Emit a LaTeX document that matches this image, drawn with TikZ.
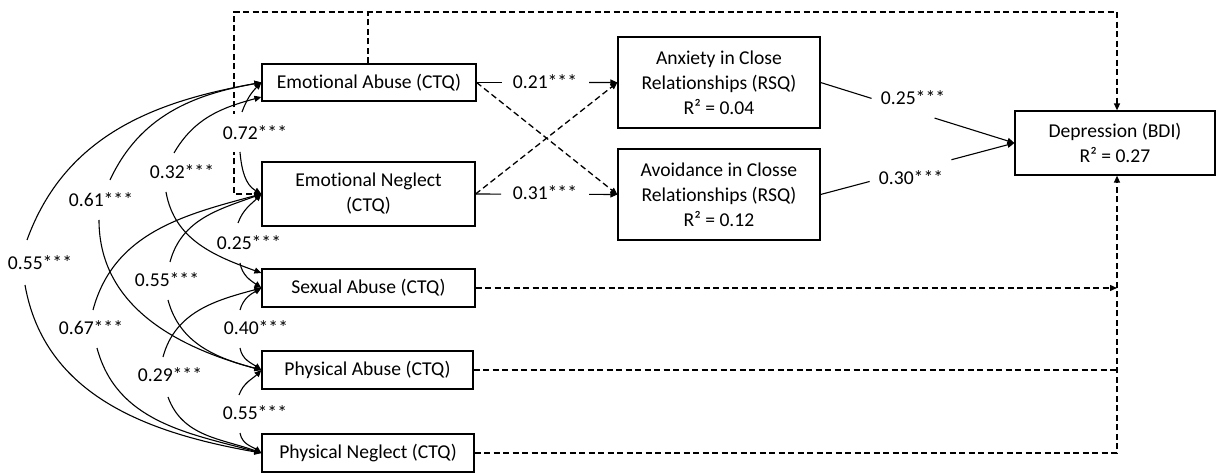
\documentclass[tikz,border=0pt]{standalone}
\usepackage{fontspec}
\setmainfont{Carlito}[Ligatures=NoCommon]
\usetikzlibrary{arrows.meta,calc}
\begin{document}
\begin{tikzpicture}[x=1pt,y=-1pt,
  box/.style={draw,line width=1.2pt,align=center,inner sep=0pt,font=\fontsize{19.6}{25}\selectfont},
  lab/.style={inner sep=1pt,font=\fontsize{19.6}{25}\selectfont},
  tip/.style={-{Triangle[length=7pt,width=6pt]}},
  cov/.style={line width=1.1pt,tip},
  regline/.style={line width=1.1pt},
  dashline/.style={line width=1.3pt,dash pattern=on 6pt off 3.5pt}
]
\useasboundingbox (0,0) rectangle (1216,473);
% boxes
\node[box,minimum width=214pt,minimum height=37pt] (EA) at (369,82.5) {Emotional Abuse (CTQ)};
\node[box,minimum width=213pt,minimum height=64pt] (EN) at (368.5,194) {Emotional Neglect\\(CTQ)};
\node[box,minimum width=213pt,minimum height=38pt] (SA) at (368.5,288) {Sexual Abuse (CTQ)};
\node[box,minimum width=211pt,minimum height=38pt] (PA) at (367.5,370) {Physical Abuse (CTQ)};
\node[box,minimum width=212pt,minimum height=38pt] (PN) at (368,453) {Physical Neglect (CTQ)};
\node[box,minimum width=202pt,minimum height=91pt] (AX) at (719,82.5) {Anxiety in Close\\Relationships (RSQ)\\R² = 0.04};
\node[box,minimum width=202pt,minimum height=91pt] (AV) at (719,194.5) {Avoidance in Closse\\Relationships (RSQ)\\R² = 0.12};
\node[box,minimum width=200pt,minimum height=64pt] (DP) at (1115,143) {Depression (BDI)\\R² = 0.27};
% dashed routes
\coordinate (c1) at (234,194);
\coordinate (c2) at (234,12);
\coordinate (c3) at (368,12);
\coordinate (c4) at (1117,12);
\draw[dashline,tip] (EN.west) -- (c1) -- (c2) -- (c4) -- (c4 |- DP.north);
\draw[dashline] (c3 |- EA.north) -- (c3);
\draw[dashline,tip] (SA.east) -- (SA.east -| c4);
\draw[dashline] (PA.east) -- (PA.east -| c4);
\draw[dashline,tip] (PN.east) -- (PN.east -| c4) -- (c4 |- DP.south);
\draw[dashline,tip] (EA.east) -- (AV.west);
\draw[dashline,tip] (EN.east) -- (AX.west);
% regression paths
\node[lab] (l21) at (545,82) {0.21***};
\draw[regline] (EA.east) -- ($(EA.east)!0.18!(AX.west)$);
\draw[regline,tip] ($(EA.east)!0.80!(AX.west)$) -- (AX.west);
\node[lab] (l31) at (545,193) {0.31***};
\draw[regline] (EN.east) -- ($(EN.east)!0.18!(AV.west)$);
\draw[regline,tip] ($(EN.east)!0.80!(AV.west)$) -- (AV.west);
\node[lab] (l25r) at (913,98) {0.25***};
\draw[regline] (AX.east) -- ($(AX.east)!0.263!(DP.west)$);
\draw[regline,tip] ($(AX.east)!0.588!(DP.west)$) -- (DP.west);
\node[lab] (l30) at (911,178) {0.30***};
\draw[regline] (AV.east) -- ($(AV.east)!0.253!(DP.west)$);
\draw[regline,tip] ($(AV.east)!0.675!(DP.west)$) -- (DP.west);
% covariance labels
\node[lab,fill=white,inner ysep=12pt] (l72) at (255,133) {0.72***};
\node[lab] (l32) at (182,172) {0.32***};
\node[lab] (l61) at (101,200) {0.61***};
\node[lab] (l55a) at (40,263) {0.55***};
\node[lab] (l25) at (249,243) {0.25***};
\node[lab] (l55b) at (167,280) {0.55***};
\node[lab] (l67) at (91,328) {0.67***};
\node[lab] (l40) at (256,328) {0.40***};
\node[lab] (l29) at (170,375) {0.29***};
\node[lab] (l55c) at (255,413) {0.55***};
% box anchor points
\coordinate (EA2) at ($(EA.west)+(0,14.5)$);
\coordinate (SA1) at ($(SA.west)+(0,-15)$);
% covariance arcs
\draw[cov] ($(l72)+(-13,-21)$) to[out=70,in=225] (EA.west);
\draw[cov] ($(l72)+(-15,19)$) to[out=-85,in=150] (EN.west);
\draw[cov] ($(l32)+(-8,-19)$) to[out=60,in=195] (EA2);
\draw[cov] ($(l32)+(-16,20)$) to[out=-80,in=160] (SA1);
\draw[cov] ($(l61)+(9,-20)$) to[out=65,in=190] (EA.west);
\draw[cov] ($(l61)+(-2,20)$) to[out=-90,in=165] (PA.west);
\draw[cov] ($(l55a)+(-13,-23)$) to[out=70,in=190] (EA.west);
\draw[cov] ($(l55a)+(-15,22)$) to[out=-80,in=170] (PN.west);
\draw[cov] ($(l25)+(-11,-20)$) to[out=70,in=225] (EN.west);
\draw[cov] ($(l25)+(-9,20)$) to[out=-80,in=145] (SA.west);
\draw[cov] ($(l55b)+(3,-18)$) to[out=75,in=200] (EN.west);
\draw[cov] ($(l55b)+(1,20)$) to[out=-75,in=165] (PA.west);
\draw[cov] ($(l67)+(2,-18)$) to[out=75,in=195] (EN.west);
\draw[cov] ($(l67)+(6,20)$) to[out=-75,in=165] (PN.west);
\draw[cov] ($(l40)+(-16,-18)$) to[out=75,in=210] (SA.west);
\draw[cov] ($(l40)+(-16,20)$) to[out=-80,in=145] (PA.west);
\draw[cov] ($(l29)+(-7,-18)$) to[out=75,in=195] (SA.west);
\draw[cov] ($(l29)+(-2,22)$) to[out=-70,in=160] (PN.west);
\draw[cov] ($(l55c)+(-16,-18)$) to[out=70,in=225] (PA.west);
\draw[cov] ($(l55c)+(-15,20)$) to[out=-80,in=145] (PN.west);
\end{tikzpicture}
\end{document}
